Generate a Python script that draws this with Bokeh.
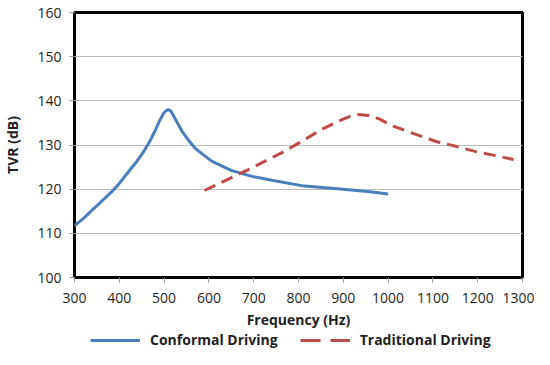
from bokeh.plotting import figure
from bokeh.layouts import column
from bokeh.models import Legend, LegendItem, FixedTicker, Range1d
from bokeh.embed import file_html
from bokeh.resources import INLINE

# Data
blue_freq = [300, 320, 340, 360, 384, 400, 421, 440, 455, 470, 481, 490, 499, 505, 509, 514, 518, 528, 540, 555, 569, 585, 607, 651, 696, 740, 807, 860, 918, 960, 1000]
blue_tvr = [111.7, 113.4, 115.3, 117.2, 119.5, 121.3, 124.0, 126.4, 128.6, 131.2, 133.5, 135.5, 137.2, 137.8, 138.0, 137.8, 137.2, 135.3, 133.1, 131.0, 129.3, 128.0, 126.3, 124.2, 122.9, 122.0, 120.8, 120.3, 119.8, 119.4, 118.9]

red_freq = [590, 640, 696, 740, 762, 807, 851, 896, 915, 935, 955, 980, 1013, 1062, 1107, 1151, 1196, 1240, 1280]
red_tvr = [119.7, 122.1, 124.8, 127.1, 128.2, 130.8, 133.5, 135.7, 136.5, 136.9, 136.7, 135.9, 134.2, 132.4, 130.8, 129.7, 128.5, 127.6, 126.7]

x_ticks = [300, 400, 500, 600, 700, 800, 900, 1000, 1100, 1200, 1300]
y_ticks = [100, 110, 120, 130, 140, 150, 160]

series_names = ["Conformal Driving", "Traditional Driving"]
x_label = "Frequency (Hz)"
y_label = "TVR (dB)"

FONT = "Open Sans"
TXT = "#1f1f1f"
BLUE = "#4A7EBB"
RED = "#BE4B48"

p = figure(width=534, height=331, output_backend="svg", toolbar_location=None,
           x_range=Range1d(300, 1300), y_range=Range1d(100, 160))
p.min_border_left = 72
p.min_border_right = 12
p.min_border_top = 12
p.min_border_bottom = 8
p.background_fill_color = "white"
p.border_fill_color = "white"
p.outline_line_color = "black"
p.outline_line_width = 3

p.xaxis.ticker = FixedTicker(ticks=x_ticks)
p.yaxis.ticker = FixedTicker(ticks=y_ticks)
for ax in (p.xaxis[0], p.yaxis[0]):
    ax.axis_line_color = None
    ax.major_tick_line_color = "#9a9a9a"
    ax.major_tick_in = 0
    ax.major_tick_out = 5
    ax.minor_tick_line_color = None
    ax.major_label_text_font = FONT
    ax.major_label_text_font_size = "14px"
    ax.major_label_text_color = TXT
    ax.axis_label_text_font = FONT
    ax.axis_label_text_font_size = "14px"
    ax.axis_label_text_font_style = "bold"
    ax.axis_label_text_color = TXT
p.xaxis.axis_label = x_label
p.yaxis.axis_label = y_label
p.xaxis.major_label_standoff = 10
p.xaxis.axis_label_standoff = 4
p.yaxis.major_label_standoff = 8
p.yaxis.axis_label_standoff = 12

p.xgrid.grid_line_color = None
p.ygrid.grid_line_color = "#bdbdbd"
p.ygrid.grid_line_width = 1

p.line(blue_freq, blue_tvr, line_color=BLUE, line_width=3)
p.line(red_freq, red_tvr, line_color=RED, line_width=3, line_dash="12 7")

# Legend strip below the chart (lines drawn outside its visible range, used only as legend keys)
p2 = figure(width=534, height=18, output_backend="svg", toolbar_location=None,
            x_range=Range1d(0, 1), y_range=Range1d(0, 1),
            x_axis_type=None, y_axis_type=None)
p2.min_border_left = 0
p2.min_border_right = 0
p2.min_border_top = 0
p2.min_border_bottom = 0
p2.outline_line_color = None
p2.xgrid.visible = False
p2.ygrid.visible = False
k1 = p2.line(blue_freq, blue_tvr, line_color=BLUE, line_width=3)
k2 = p2.line(red_freq, red_tvr, line_color=RED, line_width=3, line_dash="20 10")

legend = Legend(items=[LegendItem(label=series_names[0], renderers=[k1]),
                       LegendItem(label=series_names[1], renderers=[k2])],
                orientation="horizontal", location=(16, 0))
legend.label_text_font = FONT
legend.label_text_font_size = "14px"
legend.label_text_font_style = "bold"
legend.label_text_color = TXT
legend.glyph_width = 50
legend.glyph_height = 16
legend.label_height = 16
legend.label_standoff = 10
legend.spacing = 22
legend.padding = 0
legend.margin = 0
legend.border_line_color = None
legend.background_fill_alpha = 0
p2.add_layout(legend, "center")

layout = column(p, p2, spacing=0)
open("out.html", "w").write(file_html(layout, INLINE))
